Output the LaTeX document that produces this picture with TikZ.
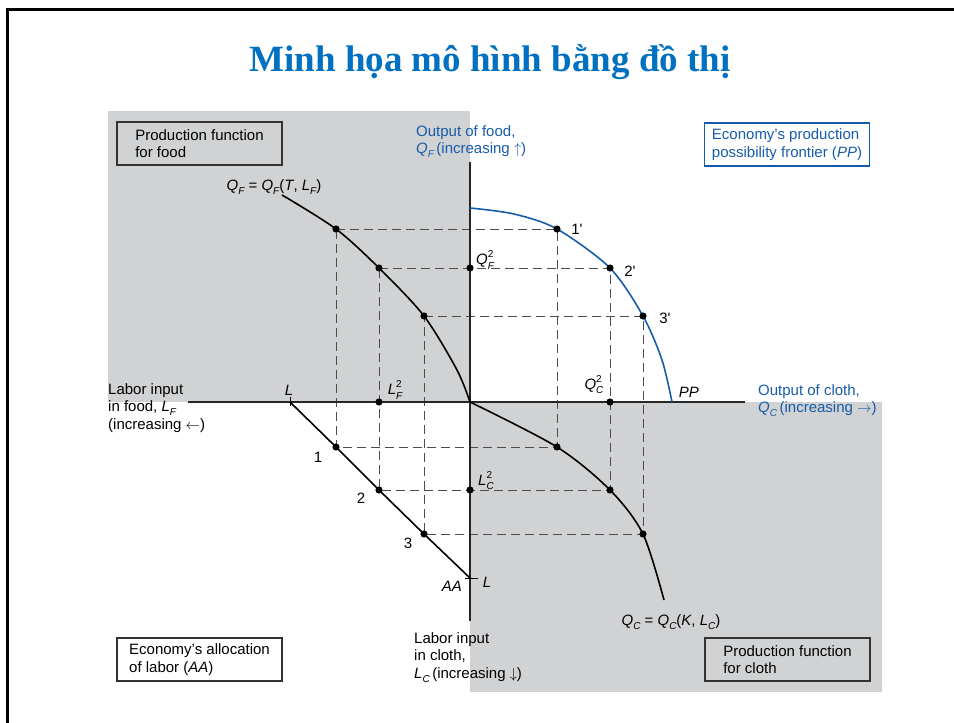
\documentclass[tikz,border=0pt]{standalone}
\usepackage{amsmath}
\usepackage{fontspec}
\setmainfont{Liberation Sans}
\newfontfamily\titlefont{Liberation Serif}
\usepackage{tikz}

\definecolor{titleblue}{RGB}{0,112,192}
\definecolor{ppblue}{RGB}{22,92,170}
\definecolor{quadgray}{RGB}{209,210,212}

% italic variable with subscript and optional superscript
\newcommand{\idx}{\fontsize{10}{10}\selectfont}
\newcommand{\sv}[3]{\textit{#1}\rlap{\raisebox{0.85ex}{\idx #3}}\raisebox{-0.55ex}{\idx\itshape #2}}

\tikzset{
  infobox/.style={draw=black!80, line width=1.5pt, align=left,
    minimum width=165pt, minimum height=43pt, inner sep=0pt},
  guide/.style={black!70, line width=0.9pt, dash pattern=on 9pt off 5pt},
  curve/.style={line width=1.6pt},
  axis/.style={line width=1.6pt, black!85},
  note/.style={align=left, anchor=north west, inner sep=0pt}
}

\begin{document}
\begin{tikzpicture}[x=10pt,y=10pt,font=\fontsize{15}{17.5}\selectfont]
        % Fix the page size
        \useasboundingbox (-47,40.2) rectangle (48.4,-32.1);

        % Slide frame
        \draw[line width=3.5pt] (-46.25,-32.1) -- (-46.25,39.25) -- (48.4,39.25);
        \node[text=titleblue, font=\titlefont\bfseries\fontsize{37}{40}\selectfont] (title) at (2,34) {Minh họa mô hình bằng đồ thị};

        % Shaded quadrants
        \fill[quadgray] (-36.2,29.1) rectangle (0,0);
        \fill[quadgray] (0,0) rectangle (41.2,-29);

        \coordinate (O) at (0,0);
        % Points used by the four curves
        \foreach \i/\lf/\qf/\qc/\lc in {1/-13.4/17.3/8.7/-4.5, 2/-9.1/13.4/14/-8.8, 3/-4.6/8.6/17.3/-13.2} {
            \coordinate (F\i) at (\lf,\qf);
            \coordinate (P\i) at (\qc,\qf);
            \coordinate (C\i) at (\qc,\lc);
            \coordinate (A\i) at (\lf,\lc);
        }

        % Dashed guides
        \foreach \i in {1,2,3}
            \draw[guide] (F\i) -- (P\i) -- (C\i) -- (A\i) -- cycle;

        % Draw the axes
        \draw[axis] (-28.2,0) -- (27.5,0);
        \draw[axis] (0,24) -- (0,-21.9);

        % Curves
        \draw[curve] plot[smooth] coordinates {(-18.8,20.7) (F1) (F2) (F3) (-1.3,3.2) (O)};
        \draw[curve, ppblue] plot[smooth] coordinates {(0,19.4) (4.4,18.8) (P1) (P2) (P3) (19.2,4.2) (20.2,0)};
        \draw[curve] plot[smooth] coordinates {(O) (C1) (C2) (C3) (19.4,-19.8)};
        \coordinate (LF) at (-18,0);
        \coordinate (LC) at (0,-17.6);
        \draw[curve] (LF) -- (A1) -- (A2) -- (A3) -- (LC);
        \draw[line width=0.8pt] (-18,0.5) -- (-18,-0.4);
        \draw[line width=0.8pt] (-0.5,-17.6) -- (0.8,-17.6);

        % Dots
        \foreach \i in {1,2,3}
            \foreach \p in {F,P,C,A}
                \fill (\p\i) circle (3.6pt);
        \fill (F2 -| O) circle (3.6pt);
        \fill (A2 |- O) circle (3.6pt);
        \fill (C2 |- O) circle (3.6pt);
        \fill (C2 -| O) circle (3.6pt);

        % Point labels
        \node (p1) at (10.7,17.3) {1\textquotesingle};
        \node (p2) at (16,13.1) {2\textquotesingle};
        \node (p3) at (19.5,8.4) {3\textquotesingle};
        \node (a1) at (-15.2,-5.5) {1};
        \node (a2) at (-10.9,-9.6) {2};
        \node (a3) at (-6.2,-14.1) {3};
        \node (qf2) at (1.5,14.2) {\sv{Q}{F}{2}};
        \node (lf2) at (-7.5,1.2) {\sv{L}{F}{2}};
        \node (qc2) at (12.4,1.7) {\sv{Q}{C}{2}};
        \node (lc2) at (1.6,-7.9) {\sv{L}{C}{2}};
        \node (ltop) at (-18.1,1.2) {\textit{L}};
        \node (lbot) at (1.7,-18) {\textit{L}};
        \node (aa) at (-1.8,-18.4) {\textit{AA}};
        \node (pp) at (21.9,1.0) {\textit{PP}};

        % Curve labels
        \node (qfeq) at (-19.6,21.5) {\sv{Q}{F}{} = \sv{Q}{F}{}(\textit{T}, \sv{L}{F}{})};
        \node (qceq) at (20.1,-22) {\sv{Q}{C}{} = \sv{Q}{C}{}(\textit{K}, \sv{L}{C}{})};

        % Axis labels
        \node[note, text=ppblue] (yfood) at (-5.4,27.7) {Output of food,\\\sv{Q}{F}{}\,(increasing $\uparrow$)};
        \node[note, text=ppblue] (xcloth) at (28.8,1.8) {Output of cloth,\\\sv{Q}{C}{}\,(increasing $\rightarrow$)};
        \node[note] (xfood) at (-36.2,1.9) {Labor input\\in food, \sv{L}{F}{}\\(increasing $\leftarrow$)};
        \node[note] (ycloth) at (-5.6,-23) {Labor input\\in cloth,\\\sv{L}{C}{}\,(increasing $\downarrow$)};

        % Quadrant boxes
        \node[infobox] (foodbox) at (-27.05,25.85) {Production function\\for food};
        \node[infobox, draw=ppblue, text=ppblue] (ppbox) at (31.7,25.75) {Economy's production\\possibility frontier (\textit{PP})};
        \node[infobox] (aabox) at (-27.05,-25.75) {Economy's allocation\\of labor (\textit{AA})};
        \node[infobox] (clothbox) at (31.75,-25.75) {Production function\\for cloth};
\end{tikzpicture}
\end{document}
